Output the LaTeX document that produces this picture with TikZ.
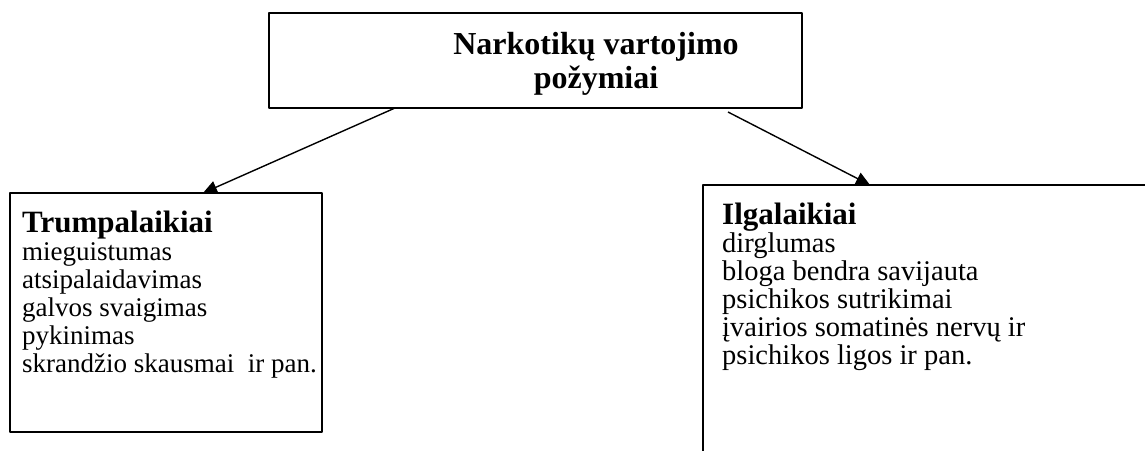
\documentclass[tikz,border=0pt]{standalone}
\usepackage{fontspec}
\setmainfont{Liberation Serif}
\usetikzlibrary{arrows.meta,positioning}
\begin{document}
\begin{tikzpicture}[>={Triangle[length=14pt,width=13pt]}, line join=round, x=1pt, y=-1pt,
    font=\fontsize{27}{28}\selectfont,
    blokas/.style={draw, line width=1.8pt, inner sep=0pt},
    antr/.style={anchor=base west, inner sep=0pt, font=\fontsize{31}{37}\selectfont\bfseries},
    tekstas/.style={anchor=base west, align=left, inner sep=0pt}]
	\useasboundingbox (0,0) rectangle (1145,450);
	\clip (0,0) rectangle (1145,450);
	% virsutinis blokas
	\node[blokas, anchor=north west, minimum width=533pt, minimum height=95pt] (pozymiai) at (268,12) {};
	\node[anchor=base, align=center, inner sep=0pt, font=\fontsize{32}{34}\selectfont\bfseries] (antraste) at (596,88) {Narkotikų vartojimo\\požymiai};
	% kairysis blokas
	\node[blokas, anchor=north west, minimum width=312pt, minimum height=239pt] (trumpi) at (9,192) {};
	\node[antr] (trumpiantr) at (22,232) {Trumpalaikiai};
	\node[tekstas] (trumpitxt) at (22,372) {mieguistumas\\atsipalaidavimas\\galvos svaigimas\\pykinimas\\skrandžio skausmai\ \ ir pan.};
	% desinysis blokas
	\node[blokas, anchor=north west, minimum width=500pt, minimum height=300pt] (ilgi) at (702,184) {};
	\node[antr] (ilgiantr) at (722,224) {Ilgalaikiai};
	\node[tekstas, font=\fontsize{28.5}{28}\selectfont] (ilgitxt) at (722,364) {dirglumas\\bloga bendra savijauta\\psichikos sutrikimai\\įvairios somatinės nervų ir\\psichikos ligos ir pan.};
	% rodykles
	\coordinate (k1) at (395,108);
	\coordinate (k2) at (203,193);
	\coordinate (d1) at (728,112);
	\coordinate (d2) at (870,185);
	\draw[->, line width=1.4pt] (k1) -- (k2);
	\draw[->, line width=1.4pt] (d1) -- (d2);
\end{tikzpicture}
\end{document}
